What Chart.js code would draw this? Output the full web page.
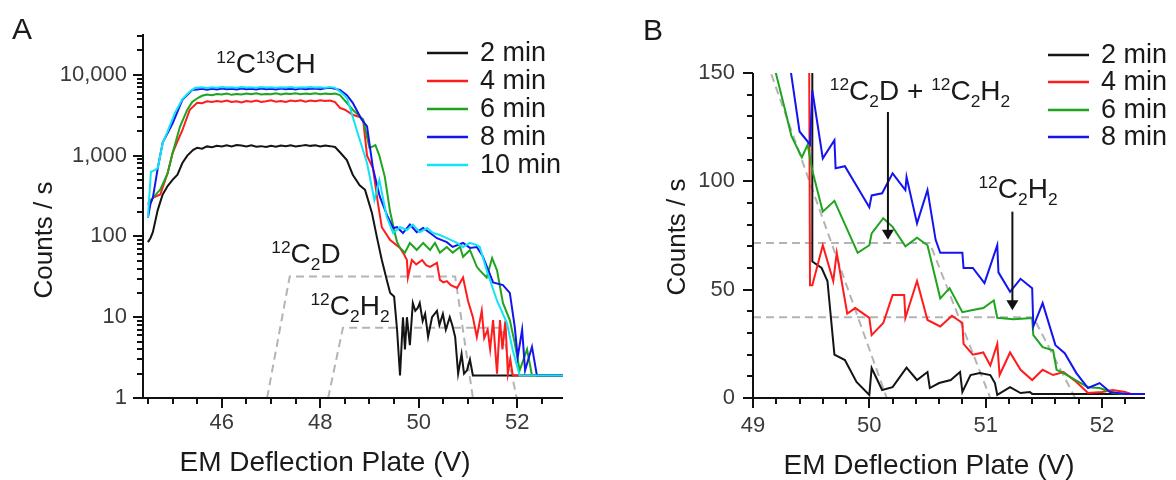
<!DOCTYPE html>
<html>
<head>
<meta charset="utf-8">
<script src="https://cdn.jsdelivr.net/npm/chart.js@4.4.0/dist/chart.umd.min.js"></script>
<style>
body { margin: 0; background: #fff; }
#wrap { position: relative; width: 1176px; height: 480px; overflow: hidden; }
canvas { position: absolute; top: 0; }
</style>
</head>
<body>
<div id="wrap">
<canvas id="chartA" width="590" height="480" style="left:0"></canvas>
<canvas id="chartB" width="586" height="480" style="left:590px"></canvas>
</div>
<script>
// ---- panel A : counts vs EM deflection plate voltage (log scale) ----
const a2min = [[44.5,85],[44.55,95],[44.6,113],[44.7,213],[44.8,330],[44.9,420],[45.0,500],[45.1,580],[45.2,810],[45.3,1000],[45.42,1180],[45.5,1250],[45.6,1220],[45.7,1300],[45.8,1270],[45.9,1320],[46.0,1300],[46.1,1340],[46.2,1300],[46.3,1350],[46.4,1330],[46.5,1300],[46.6,1340],[46.7,1290],[46.8,1310],[46.9,1280],[47.0,1320],[47.1,1290],[47.2,1330],[47.3,1310],[47.4,1340],[47.5,1300],[47.6,1320],[47.7,1350],[47.8,1320],[47.9,1340],[48.0,1300],[48.1,1330],[48.2,1310],[48.3,1280],[48.4,1100],[48.54,880],[48.66,580],[48.8,430],[48.91,377],[49.05,195],[49.15,98],[49.25,51],[49.35,29],[49.42,20],[49.5,18],[49.56,7],[49.62,1.9],[49.68,10],[49.72,4],[49.76,10],[49.82,4.5],[49.88,15],[49.93,12],[49.98,13],[50.02,15],[50.08,9],[50.13,11],[50.19,5.7],[50.27,10],[50.37,12],[50.42,8],[50.49,11],[50.55,7],[50.63,10],[50.68,8],[50.74,5.7],[50.8,2.0],[50.87,3.5],[50.92,2.0],[50.98,2.2],[51.04,3],[51.1,1.9],[52.93,1.9]];
const a4min = [[44.5,245],[44.6,300],[44.75,330],[44.9,610],[45.0,1070],[45.1,1500],[45.2,2060],[45.35,3700],[45.5,4500],[45.6,4450],[45.7,4700],[45.8,4600],[45.9,4750],[46.0,4650],[46.1,4800],[46.2,4600],[46.3,4700],[46.4,4550],[46.5,4750],[46.6,4650],[46.7,4800],[46.8,4600],[46.9,4700],[47.0,4850],[47.1,4650],[47.2,4750],[47.3,4600],[47.4,4800],[47.5,4700],[47.6,4850],[47.7,4650],[47.8,4800],[47.9,4700],[48.0,4850],[48.1,4750],[48.2,4800],[48.3,4600],[48.4,3900],[48.5,3700],[48.66,3200],[48.8,3000],[48.87,2800],[48.95,1000],[49.07,700],[49.17,260],[49.25,130],[49.42,90],[49.62,72],[49.7,60],[49.76,51],[49.78,31],[49.86,51],[49.95,45],[50.07,51],[50.15,44],[50.23,42],[50.37,47],[50.43,29],[50.5,27],[50.57,28],[50.65,25],[50.78,23],[50.9,31],[51.0,16],[51.1,10],[51.18,5.7],[51.28,12],[51.33,5.5],[51.4,7],[51.45,4],[51.51,9.2],[51.59,2.0],[51.65,9.2],[51.7,4],[51.76,9],[51.81,2.0],[51.86,3],[51.91,1.9],[52.93,1.9]];
const a6min = [[44.5,260],[44.6,300],[44.75,380],[44.9,600],[45.0,1070],[45.15,2270],[45.3,3700],[45.4,4600],[45.52,5200],[45.6,5500],[45.7,5700],[45.8,5600],[45.9,5800],[46.0,5700],[46.1,5850],[46.2,5650],[46.3,5800],[46.4,5700],[46.5,5850],[46.6,5750],[46.7,5900],[46.8,5700],[46.9,5800],[47.0,5750],[47.1,5900],[47.2,5700],[47.3,5850],[47.4,5800],[47.5,5900],[47.6,5750],[47.7,5850],[47.8,5800],[47.9,5900],[48.0,5750],[48.1,5850],[48.2,5800],[48.3,5850],[48.4,5600],[48.5,4800],[48.66,3700],[48.87,2800],[49.0,1250],[49.07,1300],[49.12,1350],[49.2,1000],[49.31,550],[49.42,200],[49.5,120],[49.56,85],[49.62,72],[49.72,63],[49.82,83],[49.96,68],[50.09,83],[50.23,68],[50.33,83],[50.43,63],[50.57,74],[50.69,63],[50.84,74],[50.9,56],[51.04,68],[51.18,42],[51.24,38],[51.38,31],[51.49,54],[51.59,38],[51.71,15],[51.85,9.2],[51.95,4.8],[52.05,2.2],[52.2,4],[52.3,1.9],[52.93,1.9]];
const a8min = [[44.5,170],[44.55,250],[44.6,300],[44.7,700],[44.8,1450],[45.0,2500],[45.2,4900],[45.4,6500],[45.5,6600],[45.6,6700],[45.7,6550],[45.8,6700],[45.9,6600],[46.0,6750],[46.1,6650],[46.2,6700],[46.3,6600],[46.4,6750],[46.5,6650],[46.6,6700],[46.7,6600],[46.8,6750],[46.9,6650],[47.0,6700],[47.1,6600],[47.2,6750],[47.3,6650],[47.4,6700],[47.5,6600],[47.6,6750],[47.7,6650],[47.8,6700],[47.9,6750],[48.0,6650],[48.1,6800],[48.2,6900],[48.3,6700],[48.4,6500],[48.54,5600],[48.66,4500],[48.84,2800],[48.95,2300],[49.07,700],[49.21,310],[49.37,175],[49.48,127],[49.56,130],[49.68,110],[49.82,140],[49.96,113],[50.09,127],[50.23,110],[50.37,95],[50.57,85],[50.69,74],[50.9,83],[51.04,72],[51.18,74],[51.3,57],[51.51,27],[51.71,25],[51.85,20],[51.95,7.6],[52.01,3.2],[52.1,7],[52.16,2.2],[52.3,4.3],[52.4,1.9],[52.93,1.9]];
const a10min = [[44.5,170],[44.56,630],[44.64,660],[44.7,700],[44.8,1440],[44.9,2000],[45.05,3400],[45.2,5000],[45.35,6200],[45.46,6900],[45.6,7000],[45.7,6850],[45.8,7000],[45.9,6900],[46.0,7050],[46.1,6950],[46.2,7000],[46.3,6900],[46.4,7050],[46.5,6950],[46.6,7000],[46.7,6900],[46.8,7050],[46.9,6950],[47.0,7000],[47.1,6900],[47.2,7000],[47.3,6950],[47.4,7050],[47.5,6900],[47.6,7000],[47.7,6950],[47.8,7050],[47.9,6950],[48.0,7000],[48.1,6900],[48.2,7050],[48.3,6900],[48.4,6200],[48.54,5200],[48.6,4000],[48.74,2070],[48.95,810],[49.1,280],[49.2,500],[49.35,175],[49.48,110],[49.62,130],[49.76,120],[49.88,140],[50.02,113],[50.17,127],[50.29,110],[50.43,104],[50.57,95],[50.78,83],[50.9,74],[51.04,83],[51.18,78],[51.24,74],[51.38,38],[51.59,16],[51.79,8.5],[51.91,3.9],[52.05,1.9],[52.93,1.9]];
const aC2D = [[46.92,1],[47.38,32],[50.74,32],[51.1,1]];
const aC2H2 = [[48.16,1],[48.46,7.4],[51.69,7.4],[51.99,1]];
const aYTickValues = [1, 10, 100, 1000, 10000];
const aYTickLabels = ['1', '10', '100', '1,000', '10,000'];
const aXTickLabels = ['46', '48', '50', '52'];

// ---- panel B : zoom on the tail (linear scale) ----
const b2min = [[49.51,200],[49.51,63],[49.59,60],[49.64,54],[49.7,20],[49.79,17.5],[49.89,7.4],[50.0,1.4],[50.02,13.8],[50.11,3.7],[50.2,5],[50.32,14],[50.41,8.3],[50.5,12],[50.52,4.6],[50.6,6.9],[50.7,8.3],[50.78,12],[50.8,2.8],[50.87,10.6],[50.95,11.5],[51.04,10.6],[51.08,6.9],[51.1,1.4],[51.21,5],[51.3,2.3],[51.38,2.8],[51.4,1.9],[52.4,1.9]];
const b4min = [[49.48,200],[49.49,52],[49.51,52],[49.6,70.5],[49.69,54],[49.72,67],[49.81,39],[49.88,41.5],[50.0,37],[50.02,29],[50.12,34.6],[50.2,47.5],[50.3,47.5],[50.31,37],[50.41,54],[50.5,36],[50.61,33],[50.71,38],[50.8,34.6],[50.81,25],[50.89,20],[50.98,21],[51.04,15],[51.1,25],[51.12,10.6],[51.21,21],[51.3,13],[51.4,8.3],[51.49,13],[51.58,10.6],[51.67,12],[51.78,7.4],[51.88,2.3],[52.0,2.8],[52.09,3.7],[52.2,2.8],[52.25,1.9],[52.4,1.9]];
const b6min = [[49.15,160],[49.28,132],[49.33,121],[49.42,111],[49.47,117],[49.51,105],[49.6,86],[49.7,91],[49.9,67],[50.0,70.5],[50.02,76],[50.12,83],[50.2,79],[50.31,70],[50.41,74],[50.5,70.5],[50.61,46],[50.69,50.7],[50.8,39.6],[50.89,40.6],[50.98,41.5],[51.07,45],[51.1,37],[51.24,36.4],[51.4,36.9],[51.41,29],[51.49,23.5],[51.58,22],[51.61,13],[51.67,11.5],[51.78,8],[51.88,5],[51.98,4.6],[52.1,2.3],[52.2,1.9],[52.4,1.9]];
const b8min = [[49.3,160],[49.4,123],[49.49,117],[49.51,142],[49.6,110.6],[49.7,119],[49.71,106],[49.79,107],[50.0,88],[50.02,93.5],[50.11,94.5],[50.2,103.7],[50.31,96],[50.32,102],[50.41,80.6],[50.5,96],[50.57,73],[50.61,67],[50.8,67],[50.81,60],[50.89,60],[50.99,53],[51.1,70.5],[51.11,58],[51.21,49],[51.3,55],[51.4,50.7],[51.41,33],[51.49,43.8],[51.6,24.4],[51.68,20.7],[51.78,11.5],[51.88,4.6],[51.98,6.9],[52.07,2.8],[52.2,1.9],[52.4,1.9]];
const bDash1 = [[49.12,155],[50.15,0]];
const bDash2 = [[49,71.5],[50.52,71.5],[51.04,0]];
const bDash3 = [[49,37.3],[51.41,37.3],[51.77,0]];
const bArrows = [[50.16,132,73],[51.23,86,40.5]];
const bYTickLabels = ['0', '50', '100', '150'];
const bXTickLabels = ['49', '50', '51', '52'];

const legendA = ['2 min', '4 min', '6 min', '8 min', '10 min'];
const legendB = ['2 min', '4 min', '6 min', '8 min'];
const colors = ['#141414', '#ff1c1c', '#1ea41e', '#1414f0', '#12e4f6'];
const dashGray = '#b4b4b4';

const FONT = '"Liberation Sans", Arial, sans-serif';

function pts(arr) {
    return arr.map(p => ({ x: p[0], y: p[1] }));
}

function series(label, arr, color, order, dashed) {
    return {
        label: label,
        data: pts(arr),
        borderColor: color,
        borderWidth: 2,
        borderDash: dashed ? [8, 5] : [],
        pointRadius: 0,
        tension: 0,
        fill: false,
        order: order
    };
}

// text with superscripts / subscripts, x = centre, y = baseline
function drawRich(ctx, parts, x, y, size) {
    const small = size * 0.62;
    let w = 0;
    parts.forEach(([t, m]) => {
        ctx.font = (m ? small : size) + 'px ' + FONT;
        w += ctx.measureText(t).width;
    });
    let cx = x - w / 2;
    ctx.textAlign = 'left';
    ctx.textBaseline = 'alphabetic';
    parts.forEach(([t, m]) => {
        ctx.font = (m ? small : size) + 'px ' + FONT;
        const dy = m === 'sup' ? -size * 0.36 : (m === 'sub' ? size * 0.24 : 0);
        ctx.fillText(t, cx, y + dy);
        cx += ctx.measureText(t).width;
    });
}

function decoPlugin(cfg) {
    return {
        id: 'deco',
        afterDraw(chart) {
            const ctx = chart.ctx;
            const xs = chart.scales.x, ys = chart.scales.y;
            const { left, right, top, bottom } = chart.chartArea;
            ctx.save();
            // axes and tick marks
            ctx.strokeStyle = '#111';
            ctx.lineWidth = 2;
            ctx.beginPath();
            ctx.moveTo(left, top);
            ctx.lineTo(left, bottom);
            ctx.lineTo(right, bottom);
            xs.ticks.forEach(t => {
                const px = Math.round(xs.getPixelForValue(t.value));
                ctx.moveTo(px, bottom);
                ctx.lineTo(px, bottom + (cfg.xMajor(t.value) ? 10 : 6));
            });
            ys.ticks.forEach(t => {
                const py = Math.round(ys.getPixelForValue(t.value));
                ctx.moveTo(left, py);
                ctx.lineTo(left - (cfg.yMajor(t.value) ? 10 : 6), py);
            });
            ctx.stroke();

            // arrows
            (cfg.arrows || []).forEach(a => {
                const px = xs.getPixelForValue(a[0]);
                const y0 = ys.getPixelForValue(a[1]);
                const y1 = ys.getPixelForValue(a[2]);
                ctx.beginPath();
                ctx.moveTo(px, y0);
                ctx.lineTo(px, y1 - 8);
                ctx.stroke();
                ctx.fillStyle = '#111';
                ctx.beginPath();
                ctx.moveTo(px - 6, y1 - 10);
                ctx.lineTo(px + 6, y1 - 10);
                ctx.lineTo(px, y1);
                ctx.closePath();
                ctx.fill();
            });

            ctx.fillStyle = '#1a1a1a';
            // panel letter
            ctx.font = '30px ' + FONT;
            ctx.textAlign = 'center';
            ctx.textBaseline = 'middle';
            ctx.fillText(cfg.letter, cfg.letterPos[0], cfg.letterPos[1]);
            // axis titles
            ctx.font = '28px ' + FONT;
            ctx.fillText('EM Deflection Plate (V)', cfg.xTitle[0], cfg.xTitle[1]);
            ctx.save();
            ctx.translate(cfg.yTitle[0], cfg.yTitle[1]);
            ctx.rotate(-Math.PI / 2);
            ctx.font = '26px ' + FONT;
            ctx.fillText('Counts / s', 0, 0);
            ctx.restore();

            // legend
            cfg.legend.forEach((name, i) => {
                const y = cfg.legendY[i];
                ctx.strokeStyle = colors[i];
                ctx.lineWidth = 2.5;
                ctx.beginPath();
                ctx.moveTo(cfg.legendX[0], y);
                ctx.lineTo(cfg.legendX[1], y);
                ctx.stroke();
                ctx.fillStyle = '#1a1a1a';
                ctx.font = '27px ' + FONT;
                ctx.textAlign = 'left';
                ctx.textBaseline = 'middle';
                ctx.fillText(name, cfg.legendX[2], y + 1);
            });

            // species labels
            ctx.fillStyle = '#1a1a1a';
            cfg.notes.forEach(n => drawRich(ctx, n.parts, n.x, n.y, 28));
            ctx.restore();
        }
    };
}

function baseOptions(pad, yWidth) {
    return {
        responsive: false,
        maintainAspectRatio: false,
        animation: false,
        events: [],
        layout: { padding: pad },
        plugins: { legend: { display: false }, tooltip: { enabled: false } },
        scales: {}
    };
}

function tickFont() {
    return { family: FONT, size: 22 };
}

// ---------- chart A ----------
const aXTicks = [];
for (let k = 89; k <= 105; k++) aXTicks.push(k / 2);
const aYTicks = [];
for (let d = 0; d <= 4; d++) {
    for (let m = 1; m <= 9; m++) {
        const v = m * Math.pow(10, d);
        if (v <= 32000) aYTicks.push(v);
    }
}

const optA = baseOptions({ top: 34, right: 27, left: 0, bottom: 0 });
optA.scales = {
    x: {
        type: 'linear', min: 44.4, max: 52.93,
        afterBuildTicks: s => { s.ticks = aXTicks.map(v => ({ value: v })); },
        afterFit: s => { s.height = 82; },
        grid: { display: false, drawTicks: false }, border: { display: false },
        ticks: {
            autoSkip: false, maxRotation: 0, minRotation: 0, padding: 12, color: '#3a3a3a', font: tickFont(),
            callback: v => (v % 2 === 0 ? aXTickLabels[(v - 46) / 2] : '')
        }
    },
    y: {
        type: 'logarithmic', min: 1, max: 32000,
        afterBuildTicks: s => { s.ticks = aYTicks.map(v => ({ value: v })); },
        afterFit: s => { s.width = 143; },
        grid: { display: false, drawTicks: false }, border: { display: false },
        ticks: {
            autoSkip: false, padding: 16, color: '#3a3a3a', font: tickFont(),
            callback: v => {
                const i = aYTickValues.indexOf(v);
                return i >= 0 ? aYTickLabels[i] : '';
            }
        }
    }
};

new Chart(document.getElementById('chartA').getContext('2d'), {
    type: 'line',
    data: {
        datasets: [
            series('12C2D', aC2D, dashGray, 10, true),
            series('12C2H2', aC2H2, dashGray, 10, true),
            series('2 min', a2min, colors[0], 5),
            series('4 min', a4min, colors[1], 4),
            series('6 min', a6min, colors[2], 3),
            series('8 min', a8min, colors[3], 2),
            series('10 min', a10min, colors[4], 1)
        ]
    },
    options: optA,
    plugins: [decoPlugin({
        letter: 'A', letterPos: [22, 31],
        xTitle: [325, 463], yTitle: [45, 240],
        xMajor: v => v % 2 === 0,
        yMajor: v => aYTickValues.indexOf(v) >= 0,
        legend: legendA, legendY: [53, 81, 109, 137, 165], legendX: [427, 468, 480],
        notes: [
            { parts: [['12', 'sup'], ['C', ''], ['13', 'sup'], ['CH', '']], x: 266, y: 73 },
            { parts: [['12', 'sup'], ['C', ''], ['2', 'sub'], ['D', '']], x: 306, y: 263 },
            { parts: [['12', 'sup'], ['C', ''], ['2', 'sub'], ['H', ''], ['2', 'sub']], x: 350, y: 315 }
        ]
    })]
});

// ---------- chart B ----------
const bXTicks = [];
for (let k = 0; k <= 16; k++) bXTicks.push((490 + 2 * k) / 10);
const bYTicks = [];
for (let v = 0; v <= 150; v += 10) bYTicks.push(v);

const optB = baseOptions({ top: 73, right: 31, left: 0, bottom: 0 });
optB.scales = {
    x: {
        type: 'linear', min: 49, max: 52.37,
        afterBuildTicks: s => { s.ticks = bXTicks.map(v => ({ value: v })); },
        afterFit: s => { s.height = 82; },
        grid: { display: false, drawTicks: false }, border: { display: false },
        ticks: {
            autoSkip: false, maxRotation: 0, minRotation: 0, padding: 15, color: '#3a3a3a', font: tickFont(),
            callback: v => (Math.abs(v - Math.round(v)) < 1e-6 ? bXTickLabels[Math.round(v) - 49] : '')
        }
    },
    y: {
        type: 'linear', min: 0, max: 150,
        afterBuildTicks: s => { s.ticks = bYTicks.map(v => ({ value: v })); },
        afterFit: s => { s.width = 163; },
        grid: { display: false, drawTicks: false }, border: { display: false },
        ticks: {
            autoSkip: false, padding: 18, color: '#3a3a3a', font: tickFont(),
            callback: v => (v % 50 === 0 ? bYTickLabels[v / 50] : '')
        }
    }
};

const offB = 590;
new Chart(document.getElementById('chartB').getContext('2d'), {
    type: 'line',
    data: {
        datasets: [
            series('d1', bDash1, dashGray, 10, true),
            series('d2', bDash2, dashGray, 10, true),
            series('d3', bDash3, dashGray, 10, true),
            series('2 min', b2min, colors[0], 4),
            series('4 min', b4min, colors[1], 3),
            series('6 min', b6min, colors[2], 2),
            series('8 min', b8min, colors[3], 1)
        ]
    },
    options: optB,
    plugins: [decoPlugin({
        letter: 'B', letterPos: [653 - offB, 32],
        xTitle: [929 - offB, 466], yTitle: [678 - offB, 237],
        xMajor: v => Math.abs(v - Math.round(v)) < 1e-6,
        yMajor: v => v % 50 === 0,
        arrows: bArrows,
        legend: legendB, legendY: [55, 82, 110, 137], legendX: [1048 - offB, 1089 - offB, 1101 - offB],
        notes: [
            { parts: [['12', 'sup'], ['C', ''], ['2', 'sub'], ['D + ', ''], ['12', 'sup'], ['C', ''], ['2', 'sub'], ['H', ''], ['2', 'sub']], x: 920 - offB, y: 100 },
            { parts: [['12', 'sup'], ['C', ''], ['2', 'sub'], ['H', ''], ['2', 'sub']], x: 1018 - offB, y: 198 }
        ]
    })]
});
</script>
</body>
</html>
